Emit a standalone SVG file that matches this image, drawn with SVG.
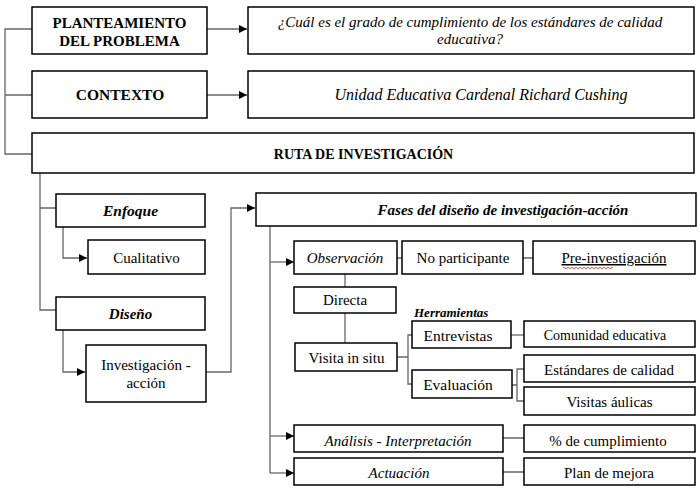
<svg xmlns="http://www.w3.org/2000/svg" width="700" height="493" viewBox="0 0 700 493" font-family="Liberation Serif">
<style>
.b{fill:#fff;stroke:#000;stroke-width:1.5}
.c{fill:none;stroke:#666;stroke-width:1.3}
text{fill:#000;text-anchor:middle;font-size:15px}
.hb{font-weight:bold}
.it{font-style:italic}
.bi{font-weight:bold;font-style:italic}
.s{font-size:14px}
</style>
<defs>
<marker id="ar" viewBox="0 0 10 10" refX="10" refY="5" markerWidth="9" markerHeight="8" markerUnits="userSpaceOnUse" orient="auto"><path d="M0,0 L10,5 L0,10 Z" fill="#000"/></marker>
</defs>
<rect width="700" height="493" fill="#fff"/>
<g id="connectors">
<path class="c" d="M32,29 H5 V154 H32 M5,95 H32"/>
<path class="c" d="M207,29 H247" marker-end="url(#ar)"/>
<path class="c" d="M207,95 H247" marker-end="url(#ar)"/>
<path class="c" d="M40,173 V310 H56 M40,208 H56"/>
<path class="c" d="M63,227 V258 H87" marker-end="url(#ar)"/>
<path class="c" d="M63,330 V372 H85" marker-end="url(#ar)"/>
<path class="c" d="M206,372 H231 V208 H255" marker-end="url(#ar)"/>
<path class="c" d="M270,226 V473"/>
<path class="c" d="M270,262 H294" marker-end="url(#ar)"/>
<path class="c" d="M270,436 H294" marker-end="url(#ar)"/>
<path class="c" d="M270,473 H294" marker-end="url(#ar)"/>
<path class="c" d="M397,258 H402 M523,258 H533"/>
<path class="c" d="M345,274 V287 M345,313 V343"/>
<path class="c" d="M397,357 H408 M412,335 H408 V384 H412"/>
<path class="c" d="M511,335 H524"/>
<path class="c" d="M512,385 H517 M524,369 H517 V401 H524"/>
<path class="c" d="M503,438 H524 M503,472 H524"/>
</g>
<g id="planteamiento"><rect class="b" x="32" y="7" width="175" height="47"/><text class="hb" x="119.5" y="28">PLANTEAMIENTO</text><text class="hb" x="119.5" y="46">DEL PROBLEMA</text></g>
<g id="pregunta"><rect class="b" x="248" y="7" width="446" height="47"/><text class="it" x="470" y="27">¿Cuál es el grado de cumplimiento de los estándares de calidad</text><text class="it" x="470" y="44">educativa?</text></g>
<g id="contexto"><rect class="b" x="32" y="71" width="175" height="47"/><text class="hb" x="120" y="100" style="font-size:15.5px">CONTEXTO</text></g>
<g id="unidad"><rect class="b" x="248" y="71" width="446" height="47"/><text class="it" x="481" y="100" style="font-size:16px">Unidad Educativa Cardenal Richard Cushing</text></g>
<g id="ruta"><rect class="b" x="32" y="133" width="662" height="40"/><text class="hb" x="363.5" y="159" style="font-size:14px">RUTA DE INVESTIGACIÓN</text></g>
<g id="enfoque"><rect class="b" x="56" y="194" width="149" height="33"/><text class="bi" x="130.5" y="216" style="font-size:15.5px">Enfoque</text></g>
<g id="cualitativo"><rect class="b" x="88" y="240" width="117" height="34"/><text x="146.5" y="263">Cualitativo</text></g>
<g id="diseno"><rect class="b" x="56" y="297" width="149" height="33"/><text class="bi" x="130.5" y="319">Diseño</text></g>
<g id="investigacion"><rect class="b" x="86" y="345" width="120" height="57"/><text x="146" y="370">Investigación -</text><text x="146" y="388">acción</text></g>
<g id="fases"><rect class="b" x="256" y="193" width="440" height="33"/><text class="bi" x="503" y="215">Fases del diseño de investigación-acción</text></g>
<g id="observacion"><rect class="b" x="294" y="241" width="103" height="33"/><text class="it" x="345" y="263">Observación</text></g>
<g id="noparticipante"><rect class="b" x="402" y="241" width="121" height="33"/><text x="463" y="263">No participante</text></g>
<g id="preinvestigacion"><rect class="b" x="533" y="241" width="162" height="33"/><text x="614" y="263" text-decoration="underline">Pre-investigación</text><path d="M563,268 q1,-1.5 2,0 t2,0 t2,0 t2,0 t2,0 t2,0 t2,0 t2,0 t2,0 t2,0 t2,0 t2,0 t2,0 t2,0 t2,0 t2,0 t2,0 t2,0 t2,0 t2,0 t2,0 t2,0 t2,0 t2,0 t2,0" fill="none" stroke="#e02020" stroke-width="0.8"/></g>
<g id="directa"><rect class="b" x="294" y="287" width="102" height="26"/><text x="345" y="305">Directa</text></g>
<g id="herramientas"><text class="bi" x="414" y="317" style="text-anchor:start;font-size:13px">Herramientas</text></g>
<g id="entrevistas"><rect class="b" x="412" y="321" width="99" height="27"/><text x="458" y="341" style="font-size:15.5px">Entrevistas</text></g>
<g id="comunidad"><rect class="b" x="524" y="321" width="171" height="26"/><text class="s" x="605" y="340">Comunidad educativa</text></g>
<g id="visita"><rect class="b" x="295" y="343" width="102" height="28"/><text x="346.5" y="363">Visita in situ</text></g>
<g id="evaluacion"><rect class="b" x="412" y="370" width="100" height="28"/><text x="458" y="390" style="font-size:15.5px">Evaluación</text></g>
<g id="estandares"><rect class="b" x="524" y="355" width="171" height="27"/><text x="609" y="375">Estándares de calidad</text></g>
<g id="visitas"><rect class="b" x="524" y="387" width="171" height="28"/><text x="609.5" y="407">Visitas áulicas</text></g>
<g id="analisis"><rect class="b" x="294" y="425" width="209" height="27"/><text class="it" x="398" y="446">Análisis - Interpretación</text></g>
<g id="cumplimiento"><rect class="b" x="524" y="425" width="171" height="27"/><text x="608" y="446">% de cumplimiento</text></g>
<g id="actuacion"><rect class="b" x="294" y="458" width="209" height="27"/><text class="it" x="399" y="478">Actuación</text></g>
<g id="plan"><rect class="b" x="524" y="458" width="171" height="27"/><text x="609" y="478">Plan de mejora</text></g>
</svg>
